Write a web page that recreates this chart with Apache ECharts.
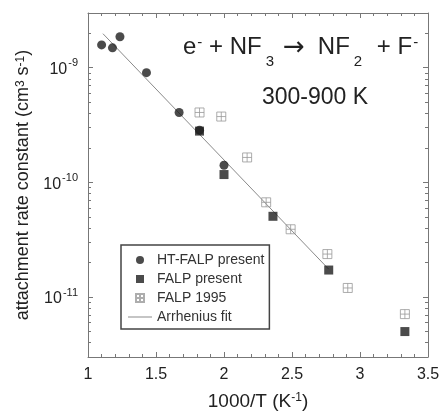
<!DOCTYPE html>
<html><head><meta charset="utf-8">
<script src="https://cdn.jsdelivr.net/npm/echarts@6/dist/echarts.min.js"></script>
<style>html,body{margin:0;padding:0;background:#fff}#c{width:443px;height:416px}</style>
</head><body><div id="c"></div>
<script>
// 1000/T (K^-1), rate constant (cm^3 s^-1)
const htFalpPresent = [[1.10,1.58e-9],[1.18,1.49e-9],[1.235,1.86e-9],[1.43,9.05e-10],[1.67,4.07e-10],[1.82,2.85e-10],[2.0,1.41e-10]];
const falpPresent = [[1.82,2.8e-10],[2.0,1.17e-10],[2.36,5.06e-11],[2.77,1.72e-11],[3.33,5.0e-12]];
const falp1995 = [[1.82,4.07e-10],[1.98,3.75e-10],[2.17,1.65e-10],[2.31,6.7e-11],[2.49,3.9e-11],[2.76,2.37e-11],[2.91,1.2e-11],[3.33,7.1e-12]];
const arrheniusFit = [[1.11,1.98e-9],[2.77,1.75e-11]];
const seriesNames = ['HT-FALP present','FALP present','FALP 1995','Arrhenius fit'];
const xRange = [1, 3.5];
const yRange = [3e-12, 3e-9];

const FONT = "'Liberation Sans', Arial, sans-serif";
const axisColor = '#777';
const SQUARE = 'path://M0,0L10,0L10,10L0,10Z';
const CROSSBOX = 'path://M0,0L10,0L10,10L0,10Z M5,0L5,10 M0,5L10,5';
const chart = echarts.init(document.getElementById('c'));

function expLabel(v){
  const e = Math.round(Math.log10(v));
  return '{b|10}{s|' + e + '}';
}
const expRich = {
  b:{fontSize:16, fontFamily:FONT, color:'#222', verticalAlign:'bottom', lineHeight:20},
  s:{fontSize:11, fontFamily:FONT, color:'#222', verticalAlign:'top', lineHeight:12, padding:[0,0,0,1]}
};

const frameX = {
  type:'value', min:xRange[0], max:xRange[1], interval:0.5,
  axisLine:{show:true, lineStyle:{color:axisColor, width:1}},
  axisTick:{show:true, inside:true, length:5, lineStyle:{color:axisColor}},
  minorTick:{show:true, splitNumber:5, length:3, lineStyle:{color:axisColor}},
  splitLine:{show:false}
};
const frameY = {
  type:'log', logBase:10, min:yRange[0], max:yRange[1],
  axisLine:{show:true, lineStyle:{color:axisColor, width:1}},
  axisTick:{show:true, inside:true, length:5, lineStyle:{color:axisColor}},
  minorTick:{show:true, splitNumber:9, length:3, lineStyle:{color:axisColor}},
  splitLine:{show:false}
};

const eqStyle = {fontFamily:FONT, fontWeight:'normal', color:'#222'};
const option = {
  animation:false,
  backgroundColor:'#fff',
  grid:{left:88, right:15, top:13, height:345},
  title:[
    {text:'{m|e}{p|-}{m| + NF}{d|3}{a|\u2192}{m|NF}{d|2}{q| + F}{p|-}', left:183, top:35, padding:0,
     textStyle:{fontWeight:'normal', rich:{
       m:Object.assign({fontSize:24, verticalAlign:'top', lineHeight:26}, eqStyle),
       q:Object.assign({fontSize:24, verticalAlign:'top', lineHeight:26, padding:[0,0,0,8]}, eqStyle),
       a:Object.assign({fontSize:26, verticalAlign:'top', lineHeight:26, padding:[0,13,0,9]}, eqStyle, {fontFamily:"'DejaVu Sans', sans-serif"}),
       p:Object.assign({fontSize:15, verticalAlign:'top', padding:[0,0,0,1]}, eqStyle),
       d:Object.assign({fontSize:15, verticalAlign:'bottom', padding:[19,0,0,4]}, eqStyle)
     }}},
    {text:'300-900 K', left:262, top:86, padding:0, textStyle:{fontSize:23, fontWeight:'normal', fontFamily:FONT, color:'#222'}}
  ],
  legend:{
    orient:'vertical', left:121, top:245,
    padding:[8,5,5,7], itemWidth:24, itemHeight:8, itemGap:5,
    borderColor:'#444', borderWidth:1.5, backgroundColor:'#fff',
    textStyle:{fontSize:14, fontFamily:FONT, color:'#333'},
    data:[
      {name:seriesNames[0], icon:'circle'},
      {name:seriesNames[1], icon:SQUARE},
      {name:seriesNames[2], icon:CROSSBOX},
      {name:seriesNames[3], icon:'path://M0,0L24,0L24,1L0,1Z'}
    ]
  },
  xAxis:[
    Object.assign({}, frameX, {
      position:'bottom',
      axisLabel:{fontSize:16, fontFamily:FONT, color:'#222', margin:10},
      name:'1000/T (K{s|-1})', nameLocation:'middle', nameGap:35,
      nameTextStyle:{fontSize:19, fontFamily:FONT, color:'#222', rich:{s:{fontSize:12, fontFamily:FONT, color:'#222', verticalAlign:'top', lineHeight:12}}}
    }),
    Object.assign({}, frameX, {position:'top', axisLabel:{show:false}})
  ],
  yAxis:[
    Object.assign({}, frameY, {
      position:'left',
      axisLabel:{formatter:expLabel, rich:expRich, margin:10, showMinLabel:false, showMaxLabel:false},
      name:'attachment rate constant (cm{s|3} s{s|-1})', nameLocation:'middle', nameGap:55,
      nameTextStyle:{fontSize:18, fontFamily:FONT, color:'#222', rich:{s:{fontSize:12, fontFamily:FONT, color:'#222', verticalAlign:'top', lineHeight:12}}}
    }),
    Object.assign({}, frameY, {position:'right', axisLabel:{show:false}})
  ],
  series:[
    {name:seriesNames[0], type:'scatter', data:htFalpPresent, symbol:'circle', symbolSize:9,
     itemStyle:{color:'#1e1e1e'}, z:4},
    {name:seriesNames[1], type:'scatter', data:falpPresent, symbol:SQUARE, symbolSize:9,
     itemStyle:{color:'#1e1e1e'}, z:4},
    {name:seriesNames[2], type:'scatter', data:falp1995, symbol:CROSSBOX, symbolSize:9,
     itemStyle:{color:'rgba(0,0,0,0)', borderColor:'#999', borderWidth:1}, z:3},
    {name:seriesNames[3], type:'line', data:arrheniusFit, symbol:'none', showSymbol:false,
     lineStyle:{color:'#8a8a8a', width:1}, itemStyle:{color:'#8a8a8a'}, z:2}
  ]
};
chart.setOption(option);
</script>
</body></html>
